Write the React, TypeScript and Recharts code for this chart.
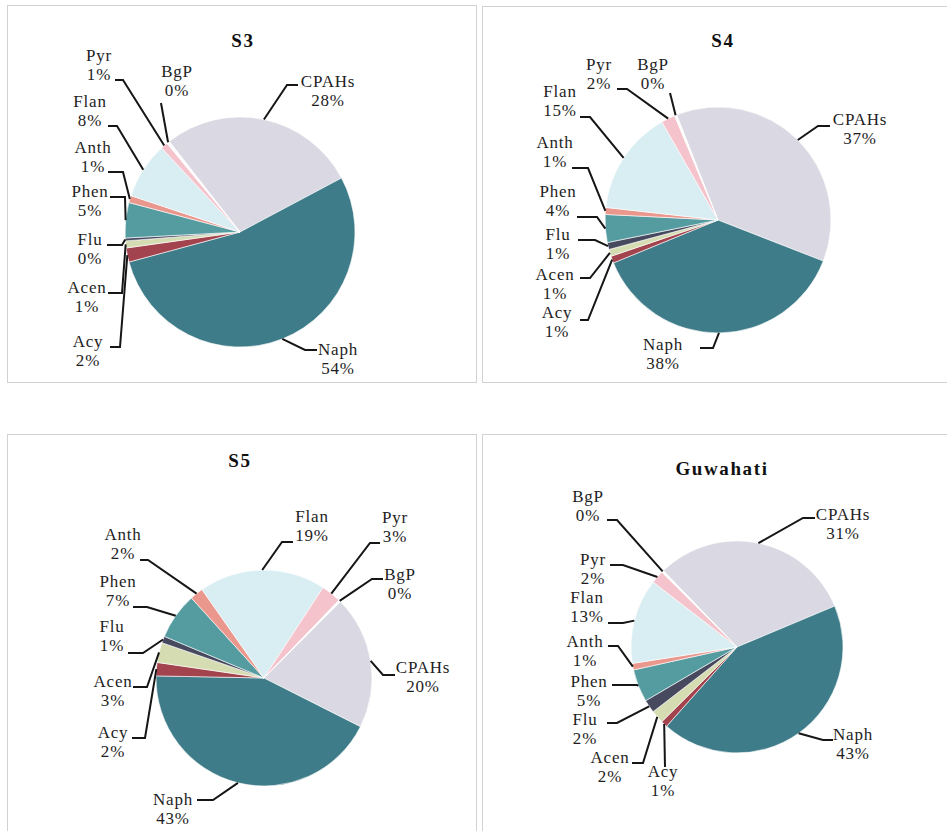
import React from 'react';
import { PieChart, Pie, Cell } from 'recharts';

// PAH groups, listed clockwise starting from the CPAHs slice
const compounds = ['CPAHs', 'Naph', 'Acy', 'Acen', 'Flu', 'Phen', 'Anth', 'Flan', 'Pyr', 'BgP'];

// Share of each group (%) per sampling site
const s3Values = [28, 54, 2, 1, 0.4, 5, 1, 8, 1, 0.4];
const s4Values = [37, 38, 1, 1, 1, 4, 1, 15, 2, 0.3];
const s5Values = [20, 43, 2, 3, 1, 7, 2, 19, 3, 0.3];
const guwahatiValues = [31, 43, 1, 2, 2, 5, 1, 13, 2, 0.3];

const siteTitles = ['S3', 'S4', 'S5', 'Guwahati'];

const sliceColors: Record<string, string> = {
  CPAHs: '#dad9e3',
  Naph: '#3f7c89',
  Acy: '#a2434e',
  Acen: '#d5dcb2',
  Flu: '#47495f',
  Phen: '#559ca1',
  Anth: '#ea978d',
  Flan: '#d9eef2',
  Pyr: '#f4c3cc',
  BgP: '#fdfdfd',
};

const FONT = "'Liberation Serif', 'DejaVu Serif', serif";

// Label placement per slice, relative to the pie centre:
// [text x, first baseline y, elbow x, elbow y, tail x, tail y]
const s3Labels = [
  [88, -145, 47, -147, 58, -147],
  [98, 123, 65, 118, 77, 118],
  [-152, 115, -120, 115, -130, 115],
  [-153, 61, -118, 61, -132, 61],
  [-150, 13, -118, 13, -133, 13],
  [-150, -35, -115, -35, -130, -35],
  [-147, -79, -117, -60, -132, -60],
  [-150, -125, -123, -106, -132, -106],
  [-141, -171, -117, -152, -125, -152],
  [-63, -155, -79, -129, -79, -129],
];
const s4Labels = [
  [142, -95, 100, -94, 112, -94],
  [-55, 130, -5, 128, -18, 128],
  [-161, 98, -130, 100, -138, 100],
  [-163, 60, -128, 58, -138, 58],
  [-160, 20, -123, 20, -140, 20],
  [-160, -23, -121, -3, -141, -3],
  [-163, -72, -130, -52, -146, -52],
  [-158, -123, -128, -103, -138, -103],
  [-119, -150, -91, -131, -101, -131],
  [-65, -150, -48, -127, -48, -127],
];
const s5Labels = [
  [159, -5, 119, -3, 131, -3],
  [-91, 127, -51, 122, -67, 122],
  [-151, 60, -119, 60, -132, 60],
  [-151, 9, -117, 9, -131, 9],
  [-152, -46, -121, -25, -136, -25],
  [-146, -91, -117, -71, -131, -71],
  [-141, -138, -116, -118, -124, -118],
  [48, -156, 18, -136, 29, -136],
  [131, -155, 106, -135, 116, -135],
  [136, -98, 108, -99, 119, -99],
];
const guwahatiLabels = [
  [106, -127, 66, -129, 78, -129],
  [116, 93, 86, 93, 96, 93],
  [-74, 130, -72, 120, -72, 120],
  [-127, 116, -94, 116, -105, 116],
  [-152, 78, -120, 76, -130, 76],
  [-148, 40, -100, 38, -125, 38],
  [-152, 0, -119, -1, -129, -1],
  [-150, -44, -114, -24, -129, -24],
  [-144, -82, -114, -82, -127, -82],
  [-149, -145, -120, -127, -130, -127],
];

type Panel = {
  title: string;
  values: number[];
  labels: number[][];
  left: number;
  top: number;
  width: number;
  height: number;
  cx: number;
  cy: number;
  r: number;
  startAngle: number;
  titleX: number;
  titleY: number;
};

const panels: Panel[] = [
  { title: siteTitles[0], values: s3Values, labels: s3Labels, left: 7, top: 5, width: 470, height: 378, cx: 233, cy: 227, r: 115, startAngle: 128, titleX: 236, titleY: 42 },
  { title: siteTitles[1], values: s4Values, labels: s4Labels, left: 482, top: 6, width: 470, height: 377, cx: 236, cy: 214, r: 113, startAngle: 111.5, titleX: 241, titleY: 41 },
  { title: siteTitles[2], values: s5Values, labels: s5Labels, left: 7, top: 434, width: 470, height: 410, cx: 257, cy: 244, r: 108, startAngle: 45, titleX: 233, titleY: 33 },
  { title: siteTitles[3], values: guwahatiValues, labels: guwahatiLabels, left: 482, top: 434, width: 470, height: 410, cx: 255, cy: 213, r: 106, startAngle: 134, titleX: 240, titleY: 41 },
];

const RAD = Math.PI / 180;

const labelTextStyle: React.CSSProperties = {
  fontFamily: FONT,
  fontSize: 17,
  letterSpacing: 0.8,
};

function makeLabel(placements: number[][]) {
  return (props: any) => {
    const { cx, cy, midAngle, outerRadius, percent, name, index } = props;
    const [tx, ty, ex, ey, lx, ly] = placements[index];
    const ax = cx + outerRadius * Math.cos(-midAngle * RAD);
    const ay = cy + outerRadius * Math.sin(-midAngle * RAD);
    const x = cx + tx;
    return (
      <g key={`label-${index}`}>
        <polyline
          points={`${ax},${ay} ${cx + ex},${cy + ey} ${cx + lx},${cy + ly}`}
          fill="none"
          stroke="#161616"
          strokeWidth={2}
        />
        <text x={x} y={cy + ty} textAnchor="middle" style={labelTextStyle} fill="#1e1e1e">
          <tspan x={x}>{name}</tspan>
          <tspan x={x} dy={19}>{`${Math.round(percent * 100)}%`}</tspan>
        </text>
      </g>
    );
  };
}

function SitePie({ panel }: { panel: Panel }) {
  const data = compounds.map((name, i) => ({ name, value: panel.values[i] }));
  return (
    <div
      style={{
        position: 'absolute',
        left: panel.left,
        top: panel.top,
        width: panel.width,
        height: panel.height,
        boxSizing: 'border-box',
        border: '1px solid #d2d2d2',
        background: '#ffffff',
      }}
    >
      <svg width={panel.width} height={60} style={{ position: 'absolute', left: -1, top: -1 }}>
        <text
          x={panel.titleX}
          y={panel.titleY}
          textAnchor="middle"
          style={{ fontFamily: FONT, fontWeight: 'bold', fontSize: 19, letterSpacing: 1.6 }}
          fill="#111"
        >
          {panel.title}
        </text>
      </svg>
      <div style={{ position: 'absolute', left: -1, top: -1 }}>
        <PieChart width={panel.width} height={panel.height} margin={{ top: 0, right: 0, bottom: 0, left: 0 }}>
          <Pie
            data={data}
            dataKey="value"
            nameKey="name"
            cx={panel.cx}
            cy={panel.cy}
            outerRadius={panel.r}
            startAngle={panel.startAngle}
            endAngle={panel.startAngle - 360}
            stroke="#ffffff"
            strokeWidth={0.6}
            label={makeLabel(panel.labels)}
            labelLine={false}
            isAnimationActive={false}
          >
            {data.map((d) => (
              <Cell key={d.name} fill={sliceColors[d.name]} />
            ))}
          </Pie>
        </PieChart>
      </div>
    </div>
  );
}

export default function App() {
  return (
    <div
      style={{
        position: 'absolute',
        left: 0,
        top: 0,
        width: 947,
        height: 831,
        overflow: 'hidden',
        background: '#ffffff',
      }}
    >
      {panels.map((p) => (
        <SitePie key={p.title} panel={p} />
      ))}
    </div>
  );
}
